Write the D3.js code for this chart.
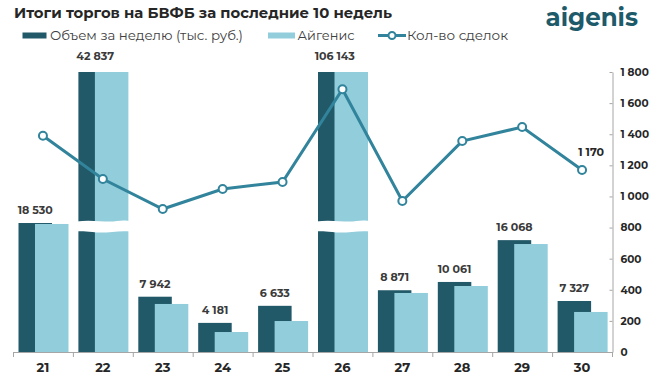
<!DOCTYPE html>
<html><head><meta charset="utf-8">
<script src="https://cdn.jsdelivr.net/npm/d3@7"></script>
<style>
html,body{margin:0;padding:0;background:#fff;}
text{font-family:"Montserrat","Inter","Open Sans",sans-serif;}
</style></head>
<body><svg id="c" width="657" height="385"></svg>
<script>
const weeks = ["21","22","23","24","25","26","27","28","29","30"];
const volume = [18530, 42837, 7942, 4181, 6633, 106143, 8871, 10061, 16068, 7327];
const aigenis = [18390, 42000, 6900, 2870, 4450, 105000, 8480, 9480, 15510, 5750];
const deals = [1390, 1112, 919, 1048, 1093, 1689, 971, 1356, 1446, 1170];
const rightTicks = [0, 200, 400, 600, 800, 1000, 1200, 1400, 1600, 1800];
const brokenWeeks = ["22", "26"];

const svg = d3.select("#c");
const fmt = v => d3.format(",")(v).replace(/,/g, " ");
const pTop = 72, pBottom = 352, pLeft = 13, pRight = 612;
const x = d3.scaleBand().domain(weeks).range([pLeft, pRight]);
const yV = d3.scaleLinear().domain([0, 40220]).range([pBottom, pTop]);
const yR = d3.scaleLinear().domain([0, 1800]).range([pBottom, pTop]);
const dark = "#215968", light = "#92CDDC", lineC = "#31849B";

// title & logo
svg.append("text").attr("x", 14).attr("y", 18).attr("font-size", 15).attr("font-weight", 700)
  .attr("fill", "#262626").attr("textLength", 378).attr("lengthAdjust", "spacingAndGlyphs")
  .text("Итоги торгов на БВФБ за последние 10 недель");
svg.append("text").attr("x", 638).attr("y", 26).attr("text-anchor", "end").attr("font-size", 24.5)
  .attr("font-weight", 700).attr("fill", "#1d5a6a").text("aigenis");

// legend
const lg = svg.append("g").attr("font-size", 13.5);
lg.append("rect").attr("x", 22.5).attr("y", 32.5).attr("width", 24).attr("height", 6).attr("fill", dark);
lg.append("text").attr("x", 50).attr("y", 40).attr("fill", "#404040")
  .attr("textLength", 193).attr("lengthAdjust", "spacingAndGlyphs").text("Объем за неделю (тыс. руб.)");
lg.append("rect").attr("x", 268).attr("y", 32.5).attr("width", 27).attr("height", 6).attr("fill", light);
lg.append("text").attr("x", 297.5).attr("y", 40).attr("fill", "#404040")
  .attr("textLength", 57).attr("lengthAdjust", "spacingAndGlyphs").text("Айгенис");
lg.append("line").attr("x1", 378).attr("x2", 406).attr("y1", 35.5).attr("y2", 35.5).attr("stroke", lineC).attr("stroke-width", 3);
lg.append("circle").attr("cx", 392).attr("cy", 35.5).attr("r", 3.5).attr("fill", "#fff").attr("stroke", lineC).attr("stroke-width", 2);
lg.append("text").attr("x", 407).attr("y", 40).attr("fill", "#404040")
  .attr("textLength", 101).attr("lengthAdjust", "spacingAndGlyphs").text("Кол-во сделок");

// bars
const bw = x.bandwidth();
const darkOff = 5.5, lightOff = 22, barW = 33.5;
svg.append("g").selectAll("rect").data(weeks).join("rect")
  .attr("x", d => x(d) + darkOff).attr("width", barW)
  .attr("y", (d, i) => Math.max(pTop, yV(volume[i])))
  .attr("height", (d, i) => pBottom - Math.max(pTop, yV(volume[i])))
  .attr("fill", dark);
svg.append("g").selectAll("rect").data(weeks).join("rect")
  .attr("x", d => x(d) + lightOff).attr("width", barW)
  .attr("y", (d, i) => Math.max(pTop, yV(aigenis[i])))
  .attr("height", (d, i) => pBottom - Math.max(pTop, yV(aigenis[i])))
  .attr("fill", light);

// break marks
brokenWeeks.forEach(w => {
  const x0 = x(w) + darkOff - 2, x1 = x(w) + lightOff + barW + 2;
  const wdt = x1 - x0;
  const p = d3.path();
  p.moveTo(x0, 221.5);
  p.bezierCurveTo(x0 + wdt * 0.3, 219, x0 + wdt * 0.55, 223, x0 + wdt * 0.75, 221);
  p.bezierCurveTo(x0 + wdt * 0.85, 220, x0 + wdt * 0.95, 220.5, x1, 221);
  p.lineTo(x1, 231.5);
  p.bezierCurveTo(x0 + wdt * 0.75, 230, x0 + wdt * 0.55, 234, x0 + wdt * 0.3, 232);
  p.bezierCurveTo(x0 + wdt * 0.15, 231, x0 + wdt * 0.05, 231, x0, 231.5);
  p.closePath();
  svg.append("path").attr("d", p.toString()).attr("fill", "#fff");
});

// value labels
svg.append("g").selectAll("text").data(weeks).join("text")
  .attr("x", d => x(d) + darkOff + barW / 2)
  .attr("y", (d, i) => Math.max(pTop, yV(volume[i])) - (yV(volume[i]) < pTop ? 12 : 9))
  .attr("text-anchor", "middle").attr("font-size", 11).attr("font-weight", 700).attr("fill", "#3a3a3a")
  .text((d, i) => fmt(volume[i]));

// x axis
const xa = svg.append("g");
xa.append("line").attr("x1", pLeft).attr("x2", pRight).attr("y1", pBottom + 0.5).attr("y2", pBottom + 0.5).attr("stroke", "#a6a6a6");
xa.selectAll("line.t").data(weeks.concat(["end"])).join("line").attr("class", "t")
  .attr("x1", (d, i) => pLeft + i * bw + 0.5).attr("x2", (d, i) => pLeft + i * bw + 0.5)
  .attr("y1", pBottom).attr("y2", pBottom + 5).attr("stroke", "#a6a6a6");
xa.selectAll("text").data(weeks).join("text")
  .attr("x", d => x(d) + bw / 2).attr("y", 372).attr("text-anchor", "middle")
  .attr("font-size", 13).attr("font-weight", 700).attr("fill", "#262626").text(d => d);

// right axis
const ra = svg.append("g").attr("transform", `translate(${pRight + 0.5},0)`)
  .call(d3.axisRight(yR).tickValues(rightTicks).tickSize(0).tickPadding(8).tickFormat(fmt));
ra.select(".domain").attr("stroke", "#a6a6a6");
ra.selectAll(".tick").append("line").attr("x1", -3).attr("x2", 0).attr("stroke", "#a6a6a6");
ra.selectAll(".tick text").attr("font-size", 10.5).attr("font-weight", 700).attr("fill", "#262626")
  .attr("font-family", "Montserrat, Inter, 'Open Sans', sans-serif");

// line
const cx = d => x(d) + bw / 2;
svg.append("path").datum(weeks).attr("fill", "none").attr("stroke", lineC).attr("stroke-width", 3)
  .attr("d", d3.line().x(cx).y((d, i) => yR(deals[i])));
svg.append("g").selectAll("circle").data(weeks).join("circle")
  .attr("cx", cx).attr("cy", (d, i) => yR(deals[i])).attr("r", 4)
  .attr("fill", "#fff").attr("stroke", lineC).attr("stroke-width", 2);
const li = deals.length - 1;
svg.append("text").attr("x", cx(weeks[li]) + 9).attr("y", yR(deals[li]) - 14).attr("text-anchor", "middle")
  .attr("font-size", 11).attr("font-weight", 700).attr("fill", "#262626").text(fmt(deals[li]));
</script></body></html>
